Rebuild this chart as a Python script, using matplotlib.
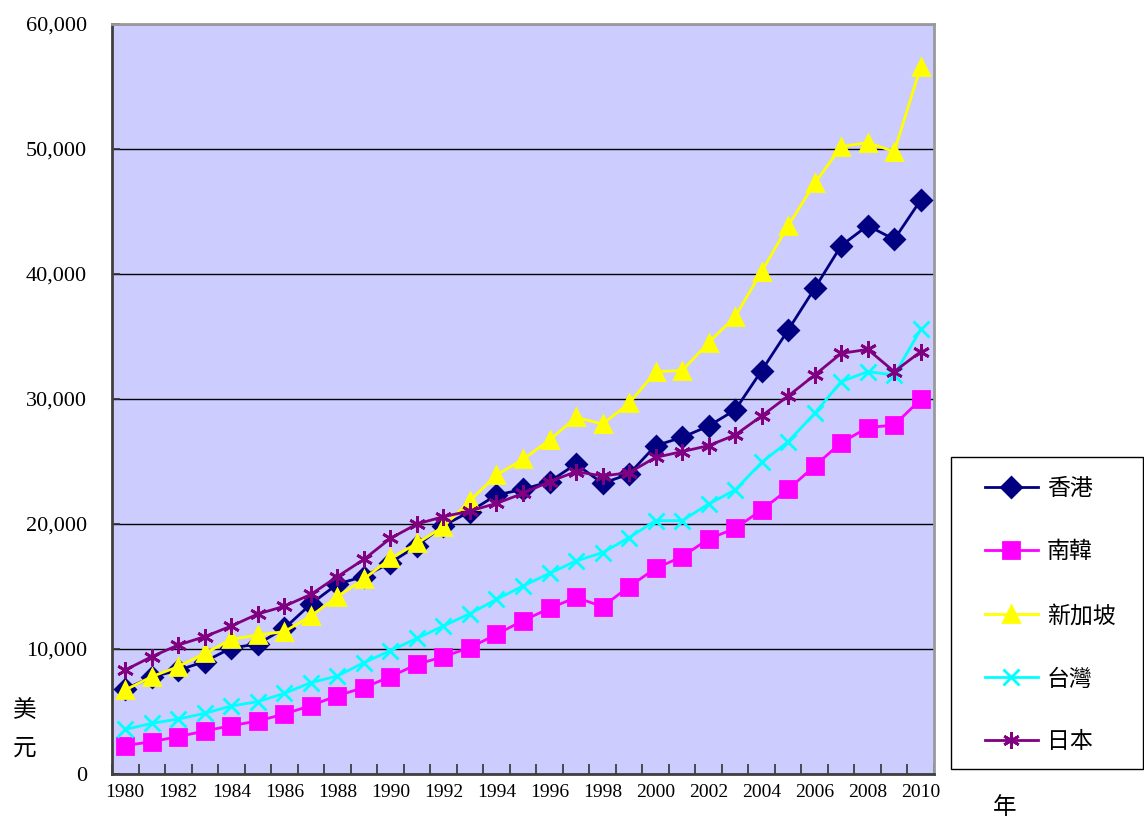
import matplotlib
matplotlib.use('Agg')
import matplotlib.pyplot as plt
from matplotlib.ticker import FuncFormatter, FixedLocator
from matplotlib.patches import Rectangle
import numpy as np

plt.rcParams['font.family'] = ['Liberation Serif', 'Noto Sans CJK TC']

years = list(range(1980, 2011))

hong_kong = [6800, 7760, 8300, 9000, 10080, 10400, 11650, 13600, 15200, 15800,
             16900, 18260, 19860, 21000, 22320, 22770, 23390, 24800, 23250, 24000,
             26270, 26930, 27840, 29120, 32270, 35520, 38850, 42270, 43870, 42770,
             45920]
south_korea = [2270, 2590, 2990, 3440, 3870, 4240, 4800, 5470, 6270, 6910,
               7790, 8770, 9390, 10110, 11170, 12270, 13250, 14130, 13390, 14990,
               16450, 17390, 18800, 19650, 21120, 22770, 24640, 26510, 27710, 27920,
               29970]
singapore = [6720, 7790, 8590, 9650, 10770, 11120, 11390, 12640, 14190, 15600,
             17250, 18450, 19790, 21870, 23920, 25170, 26720, 28530, 28000, 29650,
             32190, 32270, 34510, 36590, 40190, 43870, 47250, 50190, 50510, 49790,
             56590]
taiwan = [3570, 4050, 4400, 4850, 5440, 5790, 6450, 7310, 7840, 8910,
          9870, 10850, 11840, 12830, 13970, 15040, 16050, 17040, 17710, 18910,
          20270, 20270, 21600, 22720, 24930, 26590, 28850, 31390, 32190, 31920,
          35570]
japan = [8320, 9390, 10320, 10990, 11840, 12800, 13420, 14370, 15790, 17170,
         18850, 20000, 20590, 21040, 21650, 22450, 23390, 24190, 23840, 24110,
         25330, 25790, 26270, 27120, 28640, 30240, 31920, 33650, 33970, 32190,
         33790]

series = [
    ('香港', hong_kong, '#000080', 'D', 10),
    ('南韓', south_korea, '#FF00FF', 's', 11),
    ('新加坡', singapore, '#FFFF00', '^', 12),
    ('台灣', taiwan, '#00FFFF', 'x', 11),
    ('日本', japan, '#800080', (6, 2, 0), 12),
]

fig = plt.figure(figsize=(11.44, 8.23), dpi=100)
ax = fig.add_axes([112 / 1144, 1 - 774 / 823, (934 - 112) / 1144, (774 - 24) / 823])
ax.set_facecolor('#CCCCFF')

x = np.arange(len(years))
handles = []
for name, vals, color, marker, ms in series:
    h, = ax.plot(x, vals, color=color, lw=2, marker=marker, markersize=ms,
                 markerfacecolor=color, markeredgecolor=color, markeredgewidth=2,
                 label=name, zorder=3)
    handles.append(h)

ax.set_xlim(-0.5, len(years) - 0.5)
ax.set_ylim(0, 60000)
ax.set_yticks(range(0, 60001, 10000))
ax.yaxis.set_major_formatter(FuncFormatter(lambda v, p: f'{int(v):,}'))
ax.grid(axis='y', color='black', lw=1)
ax.set_axisbelow(True)

ax.set_xticks(x[::2])
ax.set_xticklabels([str(y) for y in years[::2]])
ax.xaxis.set_minor_locator(FixedLocator(np.arange(-0.5, len(years), 1)))
ax.tick_params(axis='x', which='major', length=0, pad=7, labelsize=14)
ax.tick_params(axis='x', which='minor', direction='in', length=7, width=1.2, color='#333333')
ax.tick_params(axis='y', direction='in', length=6, width=1.2, pad=18, labelsize=16, color='#333333')

for side in ['left', 'bottom']:
    ax.spines[side].set_color('#404040')
    ax.spines[side].set_linewidth(2)
for side in ['top', 'right']:
    ax.spines[side].set_color('#999999')
    ax.spines[side].set_linewidth(2)

fig.text(25 / 1144, 1 - 730 / 823, '美\n元', fontsize=17, ha='center', va='center', linespacing=2.0)
fig.text(1005 / 1144, 1 - 808 / 823, '年', fontsize=17, ha='center', va='center')

fig.patches.append(Rectangle((951 / 1144, 1 - 769 / 823), (1143 - 951) / 1144, (769 - 457) / 823,
                             transform=fig.transFigure, facecolor='white', edgecolor='black', lw=1))
fig.legend(handles=handles, loc='upper left', bbox_to_anchor=(985 / 1144, 1 - 479 / 823),
           frameon=False, fontsize=16.5, handlelength=2.3, handletextpad=0.4,
           labelspacing=1.83, borderpad=0, borderaxespad=0)

fig.savefig('out.png', dpi=100)
